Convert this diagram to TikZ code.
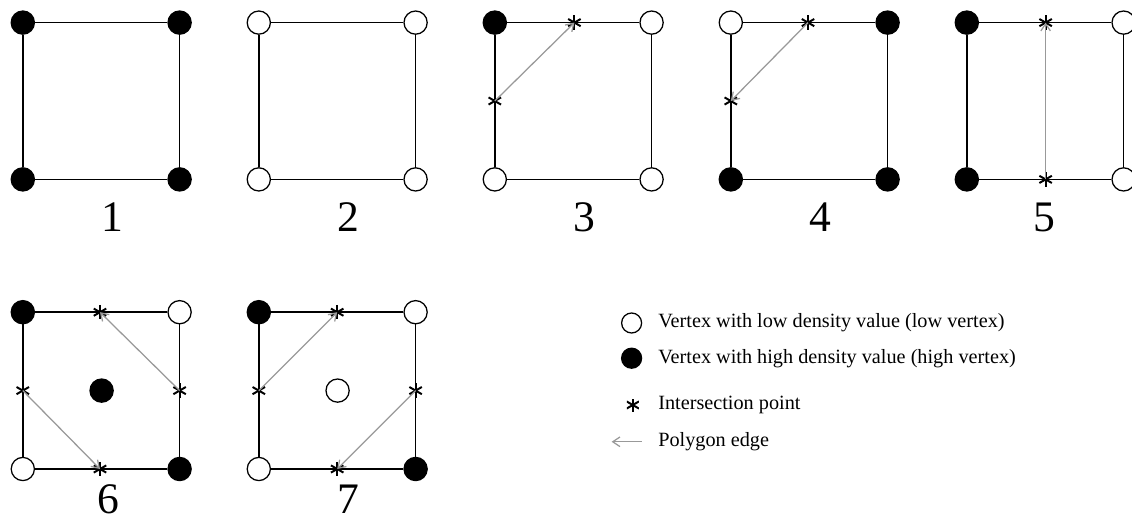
\documentclass[tikz,border=0pt]{standalone}
\usepackage{fontspec}
\setmainfont{Liberation Serif}
\usetikzlibrary{arrows.meta, calc}

\begin{document}
\begin{tikzpicture}[
    vtx/.style={circle, draw=black, line width=0.9pt, minimum size=0.58cm, inner sep=0pt},
    isect/.style={rectangle, minimum size=0.36cm, inner sep=0pt, path picture={
        \foreach \ang in {90,30,-30}
          \draw[line width=1.4pt] ($(path picture bounding box.center)+(\ang:0.18)$) -- ($(path picture bounding box.center)+(\ang+180:0.18)$);
      }},
    sqedge/.style={line width=1.2pt, black},
    polyedge/.style={-{Straight Barb[length=1.8mm, width=2.4mm]}, line width=0.9pt, black!40},
    caselabel/.style={font=\fontsize{31}{36}\selectfont, inner sep=0pt},
    legendtext/.style={anchor=west, font=\fontsize{14.4}{17}\selectfont, inner sep=0pt},
  ]
    \useasboundingbox (0,0) rectangle (28.3,13.075);

    % the seven cells: number / lower left corner / corner colours tl tr bl br
    \foreach \n/\x/\y/\ctl/\ctr/\cbl/\cbr in {
        1/0.57/8.59/black/black/black/black,
        2/6.47/8.59/white/white/white/white,
        3/12.37/8.59/black/white/white/white,
        4/18.27/8.59/white/black/black/black,
        5/24.17/8.59/black/white/black/white,
        6/0.57/1.35/black/white/white/black,
        7/6.47/1.35/black/white/white/black}{
      \node[vtx, fill=\ctl] (s\n-tl) at (\x, \y+3.92) {};
      \node[vtx, fill=\ctr] (s\n-tr) at (\x+3.92, \y+3.92) {};
      \node[vtx, fill=\cbl] (s\n-bl) at (\x, \y) {};
      \node[vtx, fill=\cbr] (s\n-br) at (\x+3.92, \y) {};
      \draw[sqedge] (s\n-tl) -- (s\n-tr) -- (s\n-br) -- (s\n-bl) -- (s\n-tl);
    }

    \node[caselabel] (lbl1) at (2.8, 7.65) {1};
    \node[caselabel] (lbl2) at (8.7, 7.65) {2};
    \node[caselabel] (lbl3) at (14.6, 7.65) {3};
    \node[caselabel] (lbl4) at (20.5, 7.65) {4};
    \node[caselabel] (lbl5) at (26.1, 7.65) {5};
    \node[caselabel] (lbl6) at (2.7, 0.6) {6};
    \node[caselabel] (lbl7) at (8.7, 0.6) {7};

    % saddle centres
    \node[vtx, fill=black] (s6-c) at (2.54, 3.31) {};
    \node[vtx, fill=white] (s7-c) at (8.44, 3.31) {};

    % intersection points
    \node[isect] (s3-t) at (14.36, 12.51) {};
    \node[isect] (s3-l) at (12.37, 10.55) {};
    \node[isect] (s4-t) at (20.2, 12.51) {};
    \node[isect] (s4-l) at (18.27, 10.55) {};
    \node[isect] (s5-t) at (26.14, 12.51) {};
    \node[isect] (s5-b) at (26.14, 8.59) {};
    \node[isect] (s6-t) at (2.5, 5.27) {};
    \node[isect] (s6-l) at (0.57, 3.31) {};
    \node[isect] (s6-r) at (4.49, 3.31) {};
    \node[isect] (s6-b) at (2.5, 1.35) {};
    \node[isect] (s7-t) at (8.43, 5.27) {};
    \node[isect] (s7-l) at (6.47, 3.31) {};
    \node[isect] (s7-r) at (10.39, 3.31) {};
    \node[isect] (s7-b) at (8.43, 1.35) {};

    % polygon edges
    \draw[polyedge] (s3-l.center) -- (s3-t.center);
    \draw[polyedge] (s4-t.center) -- (s4-l.center);
    \draw[polyedge] (s5-b.center) -- (s5-t.center);
    \draw[polyedge] (s6-r.center) -- (s6-t.center);
    \draw[polyedge] (s6-l.center) -- (s6-b.center);
    \draw[polyedge] (s7-l.center) -- (s7-t.center);
    \draw[polyedge] (s7-r.center) -- (s7-b.center);

    % legend
    \node[vtx, fill=white, minimum size=0.5cm] (keylow) at (15.79, 5.0) {};
    \node[legendtext] (keylowtxt) at (16.45, 5.0) {Vertex with low density value (low vertex)};
    \node[vtx, fill=black, minimum size=0.5cm] (keyhigh) at (15.79, 4.12) {};
    \node[legendtext] (keyhightxt) at (16.45, 4.12) {Vertex with high density value (high vertex)};
    \node[isect, minimum size=0.3cm] (keyisect) at (15.82, 2.95) {};
    \node[legendtext] (keyisecttxt) at (16.45, 2.95) {Intersection point};
    \coordinate (keyedgeA) at (16.04, 2.03);
    \coordinate (keyedgeB) at (15.29, 2.03);
    \draw[polyedge] (keyedgeA) -- (keyedgeB);
    \node[legendtext] (keyedgetxt) at (16.45, 2.03) {Polygon edge};
  \end{tikzpicture}
\end{document}
